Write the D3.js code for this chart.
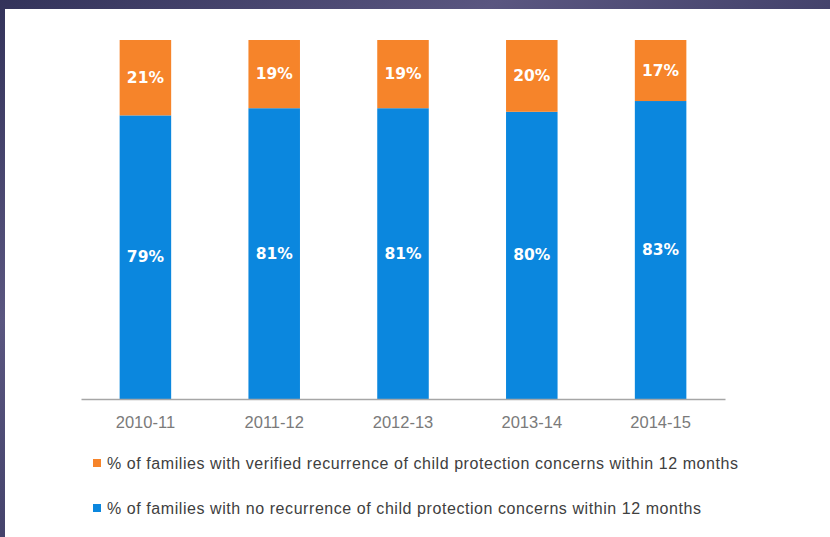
<!DOCTYPE html>
<html>
<head>
<meta charset="utf-8">
<script src="https://cdn.jsdelivr.net/npm/d3@7"></script>
<style>
  body { margin: 0; background: #34345a; }
  svg { display: block; }
</style>
</head>
<body>
<div id="chart"></div>
<script>
// child protection recurrence, stacked to 100%
const years = ['2010-11', '2011-12', '2012-13', '2013-14', '2014-15'];
const noRecurrence = [79, 81, 81, 80, 83];
const verifiedRecurrence = [21, 19, 19, 20, 17];
const legendLabels = [
  '% of families with verified recurrence of child protection concerns within 12 months',
  '% of families with no recurrence of child protection concerns within 12 months'
];
const legendWidths = [631, 594]; // measured text lengths in the original

const W = 830, H = 537;
const COLORS = { blue: '#0b87de', orange: '#f6842a' };

const svg = d3.select('#chart').append('svg')
  .attr('width', W)
  .attr('height', H);

// dark frame behind the white card
const defs = svg.append('defs');
const grad = defs.append('linearGradient')
  .attr('id', 'bg').attr('x1', 0).attr('y1', 0).attr('x2', 1).attr('y2', 1);
grad.append('stop').attr('offset', '0%').attr('stop-color', '#33335a');
grad.append('stop').attr('offset', '30%').attr('stop-color', '#5a5680');
grad.append('stop').attr('offset', '60%').attr('stop-color', '#3a3a62');
grad.append('stop').attr('offset', '100%').attr('stop-color', '#6a6490');

svg.append('rect').attr('width', W).attr('height', H).attr('fill', 'url(#bg)');
svg.append('rect').attr('x', 5).attr('y', 9).attr('width', W - 5).attr('height', H - 9).attr('fill', '#fff');

const x = d3.scaleBand()
  .domain(years)
  .range([81, 725])
  .paddingInner(0.6)
  .paddingOuter(0.3);

const y = d3.scaleLinear()
  .domain([0, 100])
  .range([399, 40]);

const rows = years.map(function (yr, i) {
  return { year: yr, no: noRecurrence[i], verified: verifiedRecurrence[i] };
});

const stack = d3.stack().keys(['no', 'verified'])(rows);
const fills = { no: COLORS.blue, verified: COLORS.orange };

stack.forEach(function (layer) {
  const g = svg.append('g');
  g.selectAll('rect')
    .data(layer)
    .enter().append('rect')
    .attr('x', function (d) { return x(d.data.year); })
    .attr('y', function (d) { return y(d[1]); })
    .attr('width', x.bandwidth())
    .attr('height', function (d) { return y(d[0]) - y(d[1]); })
    .attr('fill', fills[layer.key]);

  g.selectAll('text')
    .data(layer)
    .enter().append('text')
    .attr('x', function (d) { return x(d.data.year) + x.bandwidth() / 2; })
    .attr('y', function (d) { return (y(d[0]) + y(d[1])) / 2; })
    .attr('text-anchor', 'middle')
    .attr('dominant-baseline', 'central')
    .attr('fill', '#fff')
    .style('font-family', '"DejaVu Sans", sans-serif')
    .style('font-weight', 'bold')
    .style('font-size', '15.5px')
    .text(function (d) { return d.data[layer.key] + '%'; });
});

// x axis
const axis = svg.append('g')
  .attr('transform', 'translate(0,399)')
  .call(d3.axisBottom(x).tickSize(0).tickPadding(17));
axis.select('.domain').attr('stroke', '#a6a6a6').attr('stroke-width', 1.5);
axis.selectAll('text')
  .attr('fill', '#7a7a7a')
  .style('font-family', '"Liberation Sans", Arial, sans-serif')
  .style('font-size', '16.5px');

// legend
const legendColors = [COLORS.orange, COLORS.blue];
const lg = svg.append('g').selectAll('g')
  .data(legendLabels)
  .enter().append('g')
  .attr('transform', function (d, i) { return 'translate(93,' + (463 + i * 45) + ')'; });

lg.append('rect')
  .attr('x', 0).attr('y', -4)
  .attr('width', 8).attr('height', 8)
  .attr('fill', function (d, i) { return legendColors[i]; });

lg.append('text')
  .attr('x', 14)
  .attr('dominant-baseline', 'central')
  .attr('fill', '#404040')
  .attr('textLength', function (d, i) { return legendWidths[i]; })
  .attr('lengthAdjust', 'spacing')
  .style('font-family', '"Liberation Sans", Arial, sans-serif')
  .style('font-size', '16px')
  .text(function (d) { return d; });
</script>
</body>
</html>
